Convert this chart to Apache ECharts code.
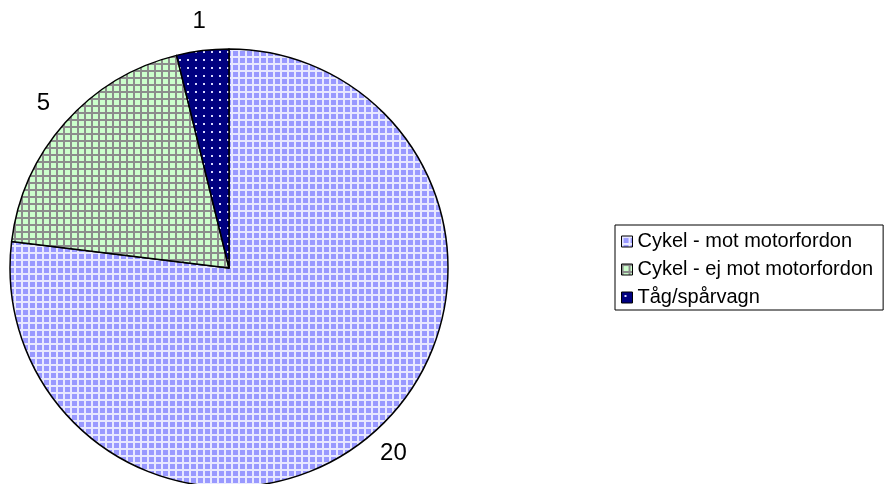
<!DOCTYPE html>
<html><head><meta charset="utf-8">
<script src="https://cdn.jsdelivr.net/npm/echarts@6/dist/echarts.min.js"></script>
<style>html,body{margin:0;padding:0;background:#fff}#c{width:885px;height:484px}</style>
</head><body><div id="c"></div>
<script>
const categories = ['Cykel - mot motorfordon', 'Cykel - ej mot motorfordon', 'Tåg/spårvagn'];
const values = [20, 5, 1];

function gridPattern(bg, line, period, lw) {
  const c = document.createElement('canvas');
  c.width = period; c.height = period;
  const g = c.getContext('2d');
  g.fillStyle = bg; g.fillRect(0, 0, period, period);
  g.fillStyle = line;
  g.fillRect(0, 0, period, lw);
  g.fillRect(0, 0, lw, period);
  return { image: c, repeat: 'repeat' };
}
function dotPattern(bg, dot, period) {
  const c = document.createElement('canvas');
  c.width = period; c.height = period;
  const g = c.getContext('2d');
  g.fillStyle = bg; g.fillRect(0, 0, period, period);
  g.fillStyle = dot;
  g.fillRect(3, 3, 2, 2);
  return { image: c, repeat: 'repeat' };
}
const fills = [
  gridPattern('#9999ff', '#e8e8ff', 7, 2),
  gridPattern('#ccffcc', '#8c8c8c', 7, 2),
  dotPattern('#000080', '#d8d8ff', 8)
];

const chart = echarts.init(document.getElementById('c'), null, { renderer: 'canvas' });
const data = categories.map((n, i) => ({ name: n, value: values[i], itemStyle: { color: fills[i] } }));
chart.setOption({
  animation: false,
  legend: {
    orient: 'vertical',
    left: 615, top: 225,
    padding: [6, 10, 2, 6],
    borderColor: '#000', borderWidth: 1,
    itemWidth: 11, itemHeight: 11, itemGap: 7,
    icon: 'rect',
    itemStyle: { borderColor: '#000', borderWidth: 1 },
    textStyle: { fontFamily: 'Liberation Sans', fontSize: 20, color: '#000', lineHeight: 21 },
    data: categories
  },
  series: [
    {
      type: 'pie',
      center: [229, 268],
      radius: [0, 219],
      startAngle: 90,
      clockwise: true,
      data: data,
      label: { show: false },
      labelLine: { show: false },
      itemStyle: { borderColor: '#000', borderWidth: 1.5 },
      emphasis: { disabled: true }
    },
    {
      type: 'pie',
      center: [229, 268],
      radius: [219, 271],
      startAngle: 90,
      clockwise: true,
      silent: true,
      data: categories.map((n, i) => ({ name: n, value: values[i] })),
      itemStyle: { color: 'rgba(0,0,0,0)', borderWidth: 0 },
      label: {
        show: true, position: 'inside', formatter: '{c}',
        fontFamily: 'Liberation Sans', fontSize: 24, color: '#000'
      },
      labelLine: { show: false },
      emphasis: { disabled: true }
    }
  ]
});
</script></body></html>
